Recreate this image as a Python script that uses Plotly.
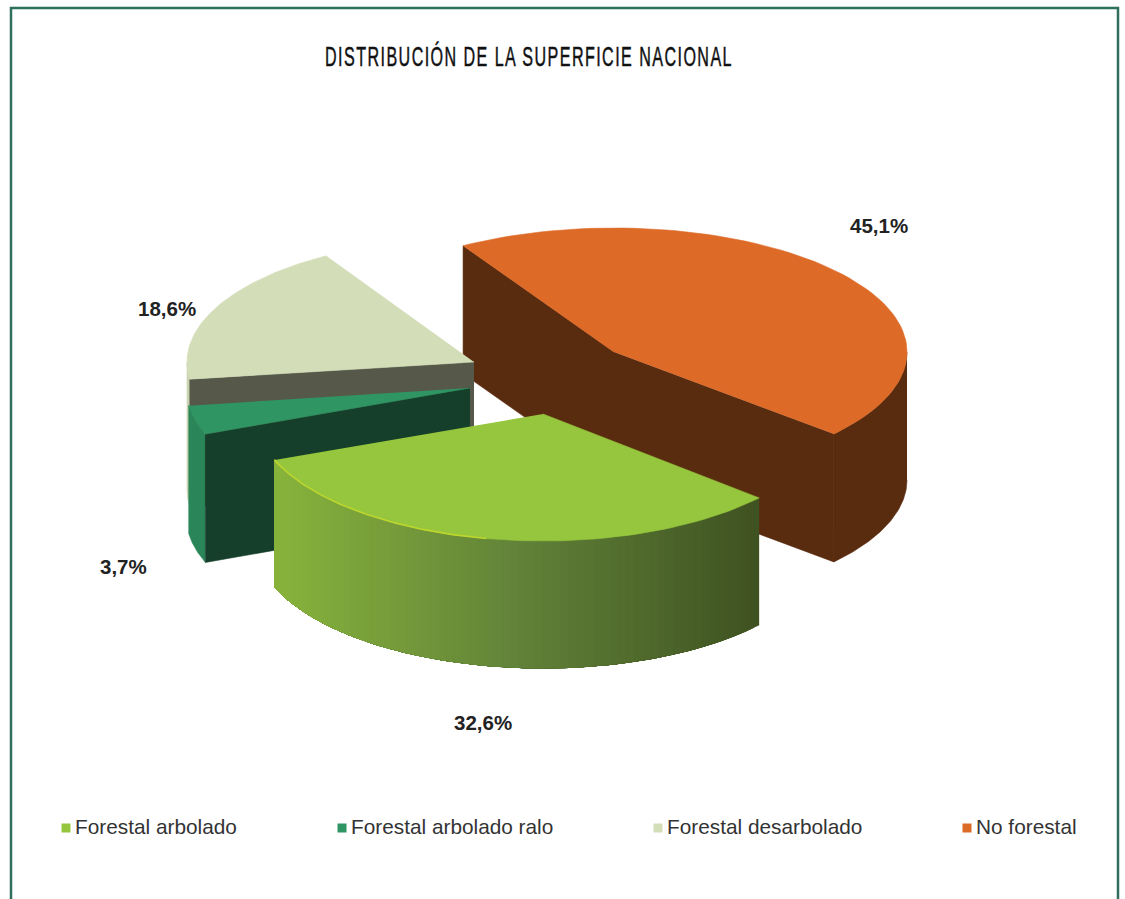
import numpy as np
import plotly.graph_objects as go

# ---- data ----
categories = ["No forestal", "Forestal arbolado", "Forestal arbolado ralo", "Forestal desarbolado"]
values = [45.1, 32.6, 3.7, 18.6]
labels = ["45,1%", "32,6%", "3,7%", "18,6%"]
legend_order = ["Forestal arbolado", "Forestal arbolado ralo", "Forestal desarbolado", "No forestal"]
title_text = "DISTRIBUCIÓN DE LA SUPERFICIE NACIONAL"

# ---- styling / layout ----
top_colors = {"No forestal": "#dd6a27", "Forestal arbolado": "#96c63d",
              "Forestal arbolado ralo": "#2f9663", "Forestal desarbolado": "#d3deb9"}
cut_colors = {"No forestal": "#5a2c0f", "Forestal arbolado ralo": "#153f2a",
              "Forestal desarbolado": "#56594a"}
outer_colors = {"No forestal": "#5a2c0f", "Forestal arbolado ralo": "#2a8659",
                "Forestal desarbolado": "#c9d3af"}
apex = {"No forestal": (614, 352), "Forestal arbolado": (543, 414),
        "Forestal arbolado ralo": (470, 388), "Forestal desarbolado": (474, 362)}
radii = {"No forestal": (293, 124), "Forestal arbolado": (288, 127),
         "Forestal arbolado ralo": (284, 128), "Forestal desarbolado": (287, 124)}
wall_span = {"No forestal": (0, None), "Forestal arbolado ralo": (None, None),
             "Forestal desarbolado": (None, -180)}
DEPTH = 128
START = 121.0
label_pos = {"No forestal": (879, 225), "Forestal arbolado": (483, 722),
             "Forestal arbolado ralo": (123, 566), "Forestal desarbolado": (167, 308)}
legend_x = {"Forestal arbolado": 66, "Forestal arbolado ralo": 342,
            "Forestal desarbolado": 658, "No forestal": 967}
LEGEND_TEXT_GAP = 9
LEGEND_Y = 828
FRAME = "#2f6f5d"

# slice angles derive from the values
angles = {}
a = START
for c, v in zip(categories, values):
    b = a - v / sum(values) * 360
    angles[c] = (a, b)
    a = b


def arc(c, t0=None, t1=None, n=80, drop=0):
    a0, a1 = angles[c]
    t0 = a0 if t0 is None else t0
    t1 = a1 if t1 is None else t1
    t = np.radians(np.linspace(t0, t1, n))
    cx, cy = apex[c]
    rx, ry = radii[c]
    return cx + rx * np.cos(t), cy - ry * np.sin(t) + drop


fig = go.Figure()


def poly(x, y, color, name=None, hover="skip"):
    fig.add_trace(go.Scatter(x=list(x), y=list(y), mode="lines", fill="toself", fillcolor=color,
                             line=dict(color=color, width=0.6), showlegend=False,
                             hoverinfo=hover, name=name))


def side(c, color):
    s0, s1 = wall_span[c]
    x, y = arc(c, s0, s1)
    poly(np.r_[x, x[::-1]], np.r_[y, y[::-1] + DEPTH], color)


def cut(c, which, color):
    x, y = arc(c)
    px, py = (x[0], y[0]) if which == 0 else (x[-1], y[-1])
    cx, cy = apex[c]
    poly([cx, px, px, cx], [cy, py, py + DEPTH, cy + DEPTH], color)


def top(c):
    x, y = arc(c)
    cx, cy = apex[c]
    poly(np.r_[cx, x], np.r_[cy, y], top_colors[c], name=c, hover="name")


# back-to-front painting
c = "No forestal"
side(c, outer_colors[c]); cut(c, 0, cut_colors[c]); cut(c, 1, cut_colors[c]); top(c)
c = "Forestal desarbolado"
side(c, outer_colors[c]); cut(c, 0, cut_colors[c]); top(c)
c = "Forestal arbolado ralo"
side(c, outer_colors[c]); cut(c, 0, cut_colors[c]); top(c)

# front slice: outer wall shaded left-to-right; each band overpaints the rest of the wall
c = "Forestal arbolado"
a0, a1 = angles[c]
edges = np.linspace(a0, a1, 71)
left_rgb, mid_rgb, right_rgb = (np.array(v) for v in ((0x88, 0xb4, 0x3c), (0x62, 0x83, 0x39), (0x3f, 0x52, 0x21)))
xs_all = arc(c, n=71)[0]
xmin, xmax = xs_all.min(), xs_all.max()
for i in range(70):  # from the right end towards the left
    x, y = arc(c, edges[i], a1, n=max(3, 70 - i))
    f = (arc(c, edges[i], edges[i + 1], n=2)[0].mean() - xmin) / (xmax - xmin)
    rgb = left_rgb + (mid_rgb - left_rgb) * f * 2 if f < .5 else mid_rgb + (right_rgb - mid_rgb) * (f - .5) * 2
    col = "rgb(%d,%d,%d)" % tuple(rgb)
    poly(np.r_[x, x[::-1]], np.r_[y, y[::-1] + DEPTH - 1], col)
top(c)
x, y = arc(c, a0 - 60, a1)
fig.add_trace(go.Scatter(x=x, y=y, mode="lines", line=dict(color="#bcd62e", width=1.6),
                         showlegend=False, hoverinfo="skip"))

# percentage labels
for c, t in zip(categories, labels):
    lx, ly = label_pos[c]
    fig.add_annotation(x=lx, y=ly, text="<b>%s</b>" % t, showarrow=False,
                       font=dict(family="Liberation Sans", size=20.5, color="#222222"))

# legend row
for c in legend_order:
    fig.add_trace(go.Scatter(x=[legend_x[c]], y=[LEGEND_Y], mode="markers",
                             marker=dict(symbol="square", size=9, color=top_colors[c]),
                             showlegend=False, hoverinfo="skip"))
    fig.add_trace(go.Scatter(x=[legend_x[c] + LEGEND_TEXT_GAP], y=[LEGEND_Y + 1], mode="text", text=[c],
                             textposition="middle right",
                             textfont=dict(family="Liberation Sans", size=20.8, color="#333333"),
                             showlegend=False, hoverinfo="skip"))

fig.update_layout(
    width=1125, height=899, margin=dict(l=0, r=0, t=0, b=0),
    paper_bgcolor="white", plot_bgcolor="white", showlegend=False,
    title=dict(text=title_text, x=529 / 1125, xanchor="center", y=1 - 56 / 899, yanchor="middle",
               font=dict(family="Liberation Sans", size=28, color="#111111")),
    xaxis=dict(range=[0, 1125], visible=False, fixedrange=True),
    yaxis=dict(range=[899, 0], visible=False, fixedrange=True),
    shapes=[dict(type="path", path="M 11 899 L 11 8 L 1118 8 L 1118 899", xref="x", yref="y",
                 line=dict(color=FRAME, width=2.5))],
)

fig.write_html("out.html", config={"displayModeBar": False},
               post_script="document.body.style.margin='0';"
                           "var t=document.querySelector('.gtitle');"
                           "if(t){t.style.letterSpacing='2.5px';t.style.stroke='#111111';t.style.strokeWidth='0.5px';"
                           "t.setAttribute('textLength','408');"
                           "t.setAttribute('lengthAdjust','spacingAndGlyphs');}")
